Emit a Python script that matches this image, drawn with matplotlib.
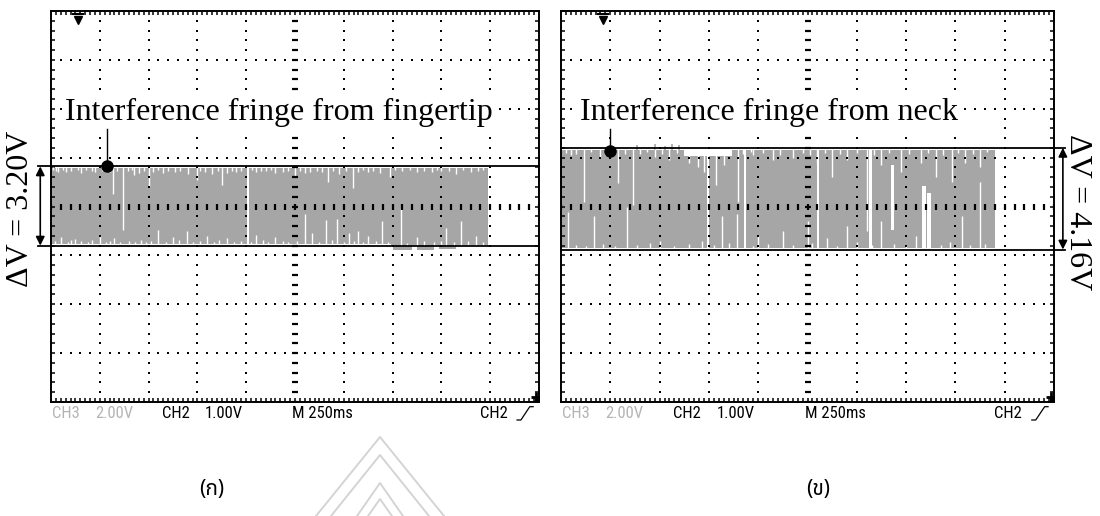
import matplotlib
matplotlib.use("Agg")
import matplotlib.pyplot as plt
import numpy as np
from matplotlib.patches import Arc

plt.rcParams['font.family'] = ['Liberation Serif', 'DejaVu Serif']

# ---- trace data, in graticule divisions (x 0..10, y -4..4, 0 = screen centre) ----
# fingertip (ก): band segments (x start, x end, top, bottom)
tip_segments = [(0.00, 1.46, 0.79, -0.77), (1.46, 4.03, 0.78, -0.77),
                (4.03, 6.97, 0.79, -0.77), (6.97, 8.95, 0.78, -0.79)]
# white drop-outs hanging from the top edge: x and the level they reach
tip_top_x = [0.05, 0.10, 0.15, 0.25, 0.30, 0.40, 0.55, 0.62, 0.72, 0.85, 0.90, 1.05,
             1.12, 1.20, 1.27, 1.35, 1.48, 1.58, 1.65, 1.70, 1.80, 1.90, 2.00, 2.10,
             2.20, 2.30, 2.40, 2.55, 2.65, 2.80, 2.99, 3.05, 3.15, 3.30, 3.42, 3.50,
             3.60, 3.70, 3.80, 3.90, 4.12, 4.20, 4.30, 4.40, 4.50, 4.60, 4.75, 4.85,
             5.00, 5.10, 5.20, 5.30, 5.45, 5.55, 5.68, 5.78, 5.90, 6.05, 6.19, 6.30,
             6.40, 6.50, 6.60, 6.75, 6.95, 7.05, 7.20, 7.35, 7.50, 7.65, 7.80, 7.90,
             8.00, 8.15, 8.30, 8.45, 8.60, 8.75, 8.85]
tip_top_y = [0.74, 0.72, 0.70, 0.75, 0.70, 0.72, 0.74, 0.69, 0.75, 0.73, 0.71, 0.72,
             0.74, 0.70, 0.25, 0.73, -0.49, 0.72, 0.74, 0.65, 0.68, 0.73, 0.39, 0.70,
             0.74, 0.68, 0.72, 0.70, 0.73, 0.66, 0.55, 0.73, 0.70, 0.66, 0.72, 0.45,
             0.68, 0.73, 0.70, 0.72, 0.74, 0.70, 0.72, 0.72, 0.74, 0.68, 0.70, 0.73,
             0.62, 0.72, 0.68, 0.70, 0.73, 0.70, 0.51, 0.72, 0.66, 0.73, 0.37, 0.70,
             0.74, 0.70, 0.73, 0.69, 0.60, 0.74, 0.72, 0.75, 0.70, 0.73, 0.70, 0.74,
             0.72, 0.73, 0.66, 0.74, 0.70, 0.72, 0.74]
# white spikes rising from the bottom edge
tip_bot_x = [0.08, 0.20, 0.35, 0.42, 0.50, 0.62, 0.75, 0.85, 1.00, 1.12, 1.20, 1.30,
             1.42, 1.60, 1.72, 1.85, 1.95, 2.05, 2.19, 2.35, 2.50, 2.62, 2.79, 2.90,
             3.05, 3.20, 3.35, 3.45, 3.60, 3.75, 3.90, 4.10, 4.20, 4.35, 4.45, 4.60,
             4.75, 4.85, 5.05, 5.20, 5.35, 5.50, 5.64, 5.75, 5.86, 6.00, 6.10, 6.20,
             6.30, 6.40, 6.50, 6.65, 6.78, 6.90, 7.17, 7.30, 7.50, 7.65, 7.85, 8.00,
             8.10, 8.25, 8.40, 8.55, 8.70, 8.85]
tip_bot_y = [-0.70, -0.62, -0.72, -0.68, -0.66, -0.70, -0.73, -0.69, -0.60, -0.72,
             -0.70, -0.64, -0.72, -0.70, -0.73, -0.69, -0.72, -0.70, -0.49, -0.73,
             -0.62, -0.69, -0.50, -0.72, -0.70, -0.60, -0.73, -0.69, -0.64, -0.72,
             -0.70, -0.72, -0.58, -0.69, -0.73, -0.62, -0.70, -0.72, -0.70, -0.16,
             -0.55, -0.72, -0.27, -0.68, -0.25, -0.72, -0.55, -0.70, -0.50, -0.73,
             -0.60, -0.70, -0.30, -0.72, -0.02, -0.74, -0.62, -0.70, -0.73, -0.71,
             -0.45, -0.73, -0.30, -0.70, -0.60, -0.72]
tip_holes = [(4.02, 4.06, -0.77, 0.79)]
tip_tail = [(7.00, 7.40, -0.88), (7.50, 7.85, -0.90), (7.95, 8.30, -0.86)]
tip_levels = (0.82, -0.80)          # cursor lines, 1.6 div x 2.00 V/div

# neck (ข)
neck_segments = [(0.00, 2.50, 1.16, -0.85), (2.50, 3.47, 1.04, -0.85),
                 (3.47, 8.80, 1.16, -0.85)]
neck_top_x = [0.10, 0.20, 0.30, 0.47, 0.60, 0.80, 0.90, 1.05, 1.16, 1.30, 1.46, 1.60,
              1.75, 1.90, 2.05, 2.20, 2.35, 2.60, 2.78, 2.90, 3.14, 3.30, 3.59, 3.70,
              3.85, 3.90, 4.10, 4.30, 4.45, 4.70, 4.90, 5.05, 5.20, 5.35, 5.50, 5.65,
              5.80, 6.00, 6.20, 6.35, 6.50, 6.65, 6.90, 7.05, 7.30, 7.45, 7.60, 7.75,
              7.93, 8.05, 8.20, 8.35, 8.50, 8.65]
neck_top_y = [1.10, 1.05, 1.08, 0.10, 1.12, 1.00, 1.06, 1.10, 0.49, 1.08, 0.04, 1.08,
              1.12, 1.02, 1.07, 0.95, 1.10, 0.90, 0.80, 0.70, 0.45, 0.85, 0.10, 1.08,
              1.12, 1.05, 1.09, 0.95, 1.06, 1.00, 1.10, 1.05, 0.90, 1.10, 0.60, 1.08,
              0.95, 1.10, -0.50, 1.06, 0.85, 1.10, 0.70, 1.08, 0.90, 1.10, 0.60, 1.05,
              0.50, 1.10, 0.90, 1.08, 0.80, 1.12]
neck_bot_x = [0.14, 0.30, 0.50, 0.67, 0.85, 1.10, 1.34, 1.55, 1.80, 2.00, 2.30, 2.60,
              2.85, 3.10, 3.27, 3.40, 3.57, 3.90, 4.00, 4.20, 4.50, 4.70, 5.00, 5.10,
              5.40, 5.60, 5.80, 6.00, 6.30, 6.50, 6.75, 7.00, 7.20, 7.70, 7.90, 8.13,
              8.30, 8.50, 8.60]
neck_bot_y = [-0.12, -0.78, -0.80, -0.20, -0.76, -0.80, -0.02, -0.78, -0.74, -0.70,
              -0.80, -0.76, -0.70, -0.78, -0.20, -0.74, -0.15, -0.80, -0.60, -0.76,
              -0.50, -0.78, -0.30, -0.74, -0.65, -0.80, -0.40, -0.72, -0.78, -0.30,
              -0.76, -0.80, -0.60, -0.78, -0.72, -0.20, -0.78, 0.50, -0.76]
neck_holes = [(2.96, 3.00, -0.85, 1.16), (3.71, 3.75, -0.85, 1.16),
              (5.19, 5.23, -0.85, 1.16), (6.25, 6.30, -0.85, 1.16),
              (6.70, 6.76, -0.47, 0.82), (7.32, 7.40, -0.85, 0.40),
              (7.43, 7.50, -0.85, 0.25)]
neck_above = [(1.55, 1.25), (1.90, 1.27), (2.10, 1.24), (2.25, 1.28), (2.40, 1.26)]
neck_levels = (1.20, -0.88)          # 2.08 div x 2.00 V/div

labels = ['Interference fringe from fingertip', 'Interference fringe from neck']
delta_v = ['ΔV = 3.20V', 'ΔV = 4.16V']
panel_tags = ['(ก)', '(ข)']
footer = ['CH3', '2.00V', 'CH2', '1.00V', 'M 250ms', 'CH2']
footer_colors = ['#b4b4b4', '#b4b4b4', 'black', 'black', 'black', 'black']

TRACE = '#a6a6a6'
W, H = 1100, 516
fig = plt.figure(figsize=(W / 100, H / 100), dpi=100)


def graticule(ax):
    ax.set_xlim(0, 10)
    ax.set_ylim(-4, 4)
    for s in ax.spines.values():
        s.set_linewidth(1.4)
    ax.set_xticks(np.arange(0, 10.01, 0.1))
    ax.set_yticks(np.arange(-4, 4.01, 0.2))
    ax.tick_params(which='both', direction='in', top=True, right=True,
                   labelbottom=False, labelleft=False, length=3, width=1.1)
    dot = dict(ls='none', marker='s', ms=1.5, color='black', mew=0, zorder=3)
    yy = np.arange(-4, 4.01, 0.2)
    xx = np.arange(0, 10.01, 0.2)
    for gx in range(1, 10):
        if gx != 5:
            ax.plot(np.full_like(yy, gx), yy, **dot)
    for gy in range(-3, 4):
        if gy != 0:
            ax.plot(xx, np.full_like(xx, gy), **dot)
    # centre cross with minor marks
    ax.plot(np.full_like(yy, 5), yy, ls='none', marker='_', ms=4, mew=1.6,
            color='black', zorder=3)
    ax.plot(xx, np.zeros_like(xx), ls='none', marker='|', ms=4, mew=1.6,
            color='black', zorder=3)


def trace(ax, segs, tx, ty, bx, by, holes):
    for x0, x1, top, bot in segs:
        ax.fill_between([x0, x1], [top, top], [bot, bot], color=TRACE, lw=0, zorder=1)
    top_of = lambda x: next(t for a, b, t, _ in segs if a <= x <= b)
    bot_of = lambda x: next(d for a, b, _, d in segs if a <= x <= b)
    ax.vlines(tx, ty, [top_of(x) + 0.02 for x in tx], color='white', lw=1.0, zorder=2)
    ax.vlines(bx, [bot_of(x) - 0.02 for x in bx], by, color='white', lw=1.0, zorder=2)
    for x0, x1, y0, y1 in holes:
        ax.fill_between([x0, x1], [y0 - 0.02] * 2, [y1 + 0.02] * 2, color='white',
                        lw=0, zorder=2)


def scope_footer(ax):
    xs = [0.002, 0.090, 0.227, 0.316, 0.494, 0.879]
    for txt, col, x in zip(footer, footer_colors, xs):
        ax.text(x, -0.029, txt, transform=ax.transAxes, ha='left', va='center',
                fontsize=12, color=col, family='Roboto Condensed')
    # rising-edge trigger symbol after CH2
    ax.plot([0.955, 0.963, 0.981, 0.988], [-0.046, -0.046, -0.012, -0.012],
            transform=ax.transAxes, color='black', lw=0.9, clip_on=False)


panels = [
    dict(rect=[51 / W, 1 - 402 / H, 488 / W, 391 / H], segs=tip_segments,
         tx=tip_top_x, ty=tip_top_y, bx=tip_bot_x, by=tip_bot_y, holes=tip_holes,
         lev=tip_levels, label=labels[0], lab_x=0.29, ptr_x=1.15, dot_y=0.82,
         line_x=(-0.27, 10.0), arrow_x=-0.22, dv=delta_v[0], dv_x=-0.63, dv_y=-0.05,
         rot=90, gnd_x=0.55),
    dict(rect=[561 / W, 1 - 402 / H, 493 / W, 391 / H], segs=neck_segments,
         tx=neck_top_x, ty=neck_top_y, bx=neck_bot_x, by=neck_bot_y, holes=neck_holes,
         lev=neck_levels, label=labels[1], lab_x=0.39, ptr_x=1.0, dot_y=1.13,
         line_x=(0.0, 10.22), arrow_x=10.18, dv=delta_v[1], dv_x=10.48, dv_y=-0.12,
         rot=270, gnd_x=0.85),
]

axes = []
for p in panels:
    ax = fig.add_axes(p['rect'])
    axes.append(ax)
    graticule(ax)
    trace(ax, p['segs'], p['tx'], p['ty'], p['bx'], p['by'], p['holes'])

    top, bot = p['lev']
    for lv in (top, bot):
        ax.plot(p['line_x'], [lv, lv], color='black', lw=1.3, zorder=4, clip_on=False)
    ax.annotate('', xy=(p['arrow_x'], top), xytext=(p['arrow_x'], bot),
                arrowprops=dict(arrowstyle='<|-|>', color='black', lw=1.2,
                                mutation_scale=13, shrinkA=0, shrinkB=0),
                annotation_clip=False, zorder=4)
    ax.text(p['dv_x'], p['dv_y'], p['dv'], rotation=p['rot'],
            ha='center', va='center', fontsize=23, clip_on=False)

    ax.text(p['lab_x'], 1.76, p['label'], fontsize=23, ha='left', va='baseline',
            bbox=dict(fc='white', ec='none', pad=2.0), zorder=5)
    ax.plot([p['ptr_x'], p['ptr_x']], [p['dot_y'], 1.58], color='black', lw=1.0, zorder=5)
    ax.plot(p['ptr_x'], p['dot_y'], 'o', ms=8, color='black', zorder=6)

    # ground reference arrow at the top of the screen
    ax.plot([p['gnd_x'] - 0.1, p['gnd_x'] + 0.1], [3.93, 3.93], color='black', lw=1.5, zorder=4)
    ax.plot(p['gnd_x'], 3.82, marker='v', ms=6, color='black', zorder=4)
    # trigger level marker at the right edge
    ax.plot(9.93, -3.9, marker='+', ms=7, mew=2, color='black', zorder=4)
    ax.plot(9.95, -3.95, marker='s', ms=3, color='black', zorder=4)

    scope_footer(ax)

# fingertip trace dips just below its lower cursor
for x0, x1, lo in tip_tail:
    axes[0].fill_between([x0, x1], [lo, lo], [-0.78, -0.78], color=TRACE, lw=0, zorder=1)
# a few neck samples poke above the upper cursor
axes[1].vlines([x for x, _ in neck_above], 1.16, [y for _, y in neck_above],
               color=TRACE, lw=1.2, zorder=1)

# panel captions and faint watermark on a full-figure overlay
ov = fig.add_axes([0, 0, 1, 1], zorder=-1)
ov.set_xlim(0, W)
ov.set_ylim(H, 0)
ov.axis('off')
for tag, x in zip(panel_tags, [212, 818]):
    ov.text(x, 489, tag, ha='center', va='center', fontsize=15,
            family='Noto Sans Thai', fontweight='light')

wm = '#d4d4d4'
ov.plot([316, 380, 444], [516, 437, 516], color=wm, lw=1.4)
ov.plot([331, 380, 429], [516, 455, 516], color=wm, lw=1.4)
ov.plot([357, 380, 403], [516, 483, 516], color=wm, lw=1.4)
ov.plot([368, 380, 392], [516, 499, 516], color=wm, lw=1.4)
ov.add_patch(Arc((487, 519), 22, 22, theta1=0, theta2=180, color=wm, lw=1.4))

fig.savefig('out.png', dpi=100)
